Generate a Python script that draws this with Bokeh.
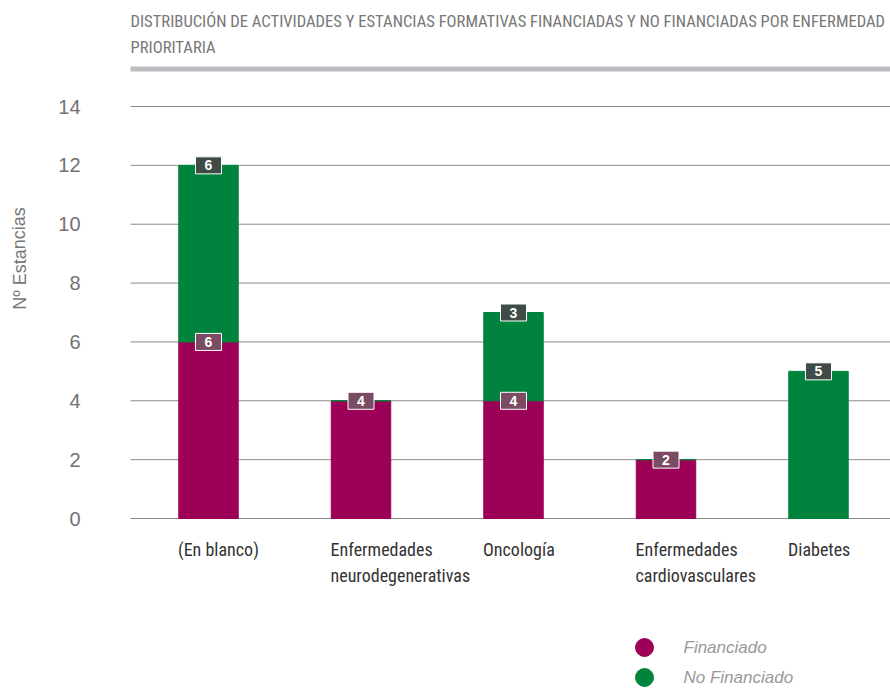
from bokeh.plotting import figure
from bokeh.models import ColumnDataSource, Range1d
from bokeh.core.properties import value
from bokeh.embed import file_html
from bokeh.resources import INLINE

categories = ["(En blanco)", "Enfermedades\nneurodegenerativas", "Oncología",
              "Enfermedades\ncardiovasculares", "Diabetes"]
financiado = [6, 4, 4, 2, 0]
no_financiado = [6, 0, 3, 0, 5]
y_ticks = [0, 2, 4, 6, 8, 10, 12, 14]
title_lines = ["DISTRIBUCIÓN DE ACTIVIDADES Y ESTANCIAS FORMATIVAS FINANCIADAS Y NO FINANCIADAS POR ENFERMEDAD",
               "PRIORITARIA"]
y_label = "Nº Estancias"
series_names = ["Financiado", "No Financiado"]

MAGENTA = "#9c0057"
GREEN = "#00843d"
NARROW = "'Liberation Sans Narrow', 'Arial Narrow', 'Roboto Condensed', sans-serif"
SANS = "'Liberation Sans', Arial, sans-serif"

# layout: canvas pixel -> data helpers
W, H = 890, 689
PPX = 152.5          # pixels per category
PPY = 412 / 14       # pixels per unit
X0_PX, Y0_PX = 208, 518   # canvas position of (0, 0)

def px(cx):
    return (cx - X0_PX) / PPX

def py(cy):
    return (Y0_PX - cy) / PPY

p = figure(width=W, height=H, output_backend="svg", toolbar_location=None,
           x_range=Range1d(px(0), px(W)), y_range=Range1d(py(H), py(0)),
           min_border=0)
p.outline_line_color = None
p.background_fill_color = "white"
p.axis.visible = False
p.grid.visible = False

xs = list(range(len(categories)))
tops = [f + n for f, n in zip(financiado, no_financiado)]
src = ColumnDataSource(dict(x=xs, fin=financiado, nof=no_financiado, top=tops))

# gridlines
p.segment(x0=px(130), x1=px(890), y0=y_ticks, y1=y_ticks, line_color="#8c8c8c", line_width=1)
# y tick labels
p.text(x=px(80), y=y_ticks, text=[str(t) for t in y_ticks], text_align="right",
       text_baseline="middle", text_font_size="20px", text_color="#727272",
       text_font=value(SANS))
# y axis title
p.text(x=px(19), y=py(258), text=[y_label], angle=1.5708, text_align="center",
       text_baseline="middle", text_font_size="18px", text_color="#777777",
       text_font=value(SANS))

# bars
p.vbar(x="x", bottom=0, top="fin", width=0.39, color=MAGENTA, source=src)
p.vbar(x="x", bottom="fin", top="top", width=0.39, color=GREEN, source=src)

# value labels
fin_lab = ColumnDataSource(dict(x=[x for x, f in zip(xs, financiado) if f > 0],
                                y=[f for f in financiado if f > 0],
                                t=[str(f) for f in financiado if f > 0]))
nof_lab = ColumnDataSource(dict(x=[x for x, n in zip(xs, no_financiado) if n > 0],
                                y=[t for t, n in zip(tops, no_financiado) if n > 0],
                                t=[str(n) for n in no_financiado if n > 0]))
for s, bg in ((fin_lab, "#7b4a63"), (nof_lab, "#3f4b47")):
    p.rect(x="x", y="y", width=26, height=17, width_units="screen", height_units="screen",
           fill_color=bg, line_color="white", line_width=1, source=s)
    p.text(x="x", y="y", text="t", source=s, text_align="center", text_baseline="middle",
           text_color="white", text_font_style="bold", text_font_size="14px",
           text_font=value(SANS))

# category labels
p.text(x=[x - 0.2 for x in xs], y=py(538), text=categories, text_align="left",
       text_baseline="top", text_font_size="18px", text_color="#333333",
       text_line_height=1.25, text_font=value(NARROW))

# title
p.text(x=px(130), y=[py(21), py(47)], text=title_lines, text_align="left",
       text_baseline="alphabetic", text_font_size="16.6px", text_color="#777777",
       text_font=value(NARROW))
p.quad(left=px(130), right=px(890), top=py(66), bottom=py(71),
       fill_color="#bbbcbf", line_color=None)

# legend
leg_y = [py(647), py(677)]
p.scatter(x=px(644), y=leg_y, marker="circle", size=18, color=[MAGENTA, GREEN])
p.text(x=px(683), y=leg_y, text=series_names, text_align="left", text_baseline="middle",
       text_font_style="italic", text_font_size="17px", text_color="#999999",
       text_font=value(SANS))

open("out.html", "w").write(file_html(p, INLINE))
